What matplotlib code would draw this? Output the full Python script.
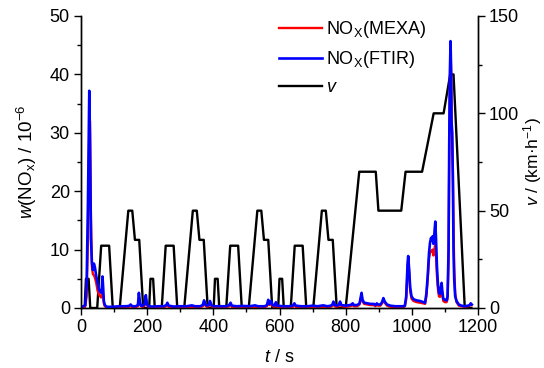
import numpy as np
import matplotlib
matplotlib.use("Agg")
import matplotlib.pyplot as plt
from matplotlib.ticker import MultipleLocator

plt.rcParams.update({
    "font.family": "Liberation Sans",
    "font.size": 13,
    "mathtext.fontset": "custom",
    "mathtext.rm": "Liberation Sans",
    "mathtext.it": "Liberation Sans:italic",
    "axes.linewidth": 1.0,
})

# speed profile breakpoints (t in s, v in km/h)
t_speed = [0, 11, 15, 23, 28, 49, 61, 85, 96, 117, 143, 155, 163, 176, 188,
           195, 206, 210, 218, 223, 244, 256, 280, 291, 312, 338, 350, 358, 371, 383,
           390, 401, 405, 413, 418, 439, 451, 475, 486, 507, 533, 545, 553, 566, 578,
           585, 596, 600, 608, 613, 634, 646, 670, 681, 702, 728, 740, 748, 761, 773,
           780, 800, 841, 891, 899, 968, 981, 1031, 1066, 1096, 1116, 1126, 1160, 1180]
v_speed = [0, 0, 15, 15, 0, 0, 32, 32, 0, 0, 50, 50, 35, 35, 0,
           0, 0, 15, 15, 0, 0, 32, 32, 0, 0, 50, 50, 35, 35, 0,
           0, 0, 15, 15, 0, 0, 32, 32, 0, 0, 50, 50, 35, 35, 0,
           0, 0, 15, 15, 0, 0, 32, 32, 0, 0, 50, 50, 35, 35, 0,
           0, 0, 70, 70, 50, 50, 70, 70, 100, 100, 120, 120, 0, 0]

# NOx mass fraction (10^-6)
t_nox = [0, 8, 13, 17, 21, 25, 27, 30, 33, 36, 39, 42, 46, 50, 54, 58, 61, 63, 65, 67,
         69, 72, 78, 90, 105, 120, 135, 145, 150, 155, 165, 172, 175, 178, 181, 186, 192,
         196, 199, 203, 215, 235, 250, 258, 261, 265, 280, 300, 320, 335, 345, 360, 368,
         372, 376, 381, 386, 390, 394, 400, 420, 440, 448, 452, 456, 470, 490, 510, 526,
         535, 555, 562, 566, 570, 575, 579, 585, 589, 593, 610, 630, 640, 645, 649, 665,
         685, 700, 715, 732, 745, 755, 760, 763, 767, 775, 780, 783, 787, 800, 812, 818,
         821, 825, 835, 842, 846, 848, 851, 856, 865, 875, 885, 890, 894, 898, 905, 910,
         914, 918, 925, 935, 950, 965, 975, 979, 983, 987, 989, 992, 995, 999, 1005, 1015,
         1025, 1035, 1040, 1044, 1048, 1052, 1055, 1058, 1061, 1063, 1065, 1067, 1069,
         1071, 1073, 1076, 1079, 1082, 1085, 1088, 1090, 1092, 1095, 1100, 1105, 1108,
         1111, 1113, 1115, 1117, 1119, 1120, 1122, 1124, 1126, 1128, 1131, 1135, 1142,
         1150, 1160, 1170, 1175, 1178, 1181]
nox_ftir = [0.2, 0.3, 0.5, 4.0, 18.0, 37.2, 30.0, 12.0, 7.8, 6.5, 7.6, 7.0, 5.5, 4.3, 3.2, 2.8, 2.6, 3.5, 5.4, 3.5,
            1.2, 0.5, 0.2, 0.2, 0.25, 0.3, 0.3, 0.35, 0.6, 0.3, 0.3, 0.5, 2.6, 1.0, 0.4, 0.4, 0.6,
            2.2, 0.8, 0.3, 0.25, 0.3, 0.3, 0.5, 0.9, 0.4, 0.25, 0.3, 0.3, 0.45, 0.3, 0.3, 0.5,
            1.3, 0.6, 0.4, 0.5, 1.2, 0.5, 0.3, 0.3, 0.3, 0.5, 0.9, 0.4, 0.3, 0.35, 0.3, 0.45,
            0.3, 0.3, 0.5, 1.4, 0.7, 1.2, 0.5, 0.4, 1.0, 0.4, 0.3, 0.3, 0.4, 0.8, 0.4, 0.3,
            0.3, 0.4, 0.3, 0.45, 0.3, 0.4, 0.6, 1.1, 0.5, 0.4, 0.6, 1.1, 0.5, 0.4, 0.5, 0.6,
            0.8, 0.5, 0.5, 0.8, 2.0, 2.6, 1.4, 0.9, 0.8, 0.7, 0.7, 0.5, 0.8, 0.6, 0.6, 1.0,
            1.7, 1.1, 0.6, 0.4, 0.3, 0.3, 0.3, 0.4, 2.0, 7.5, 8.9, 6.5, 3.5, 2.0, 1.5, 1.3,
            1.2, 1.0, 0.9, 2.5, 5.5, 9.5, 11.2, 12.0, 11.5, 12.3, 11.0, 11.8, 13.5,
            14.8, 12.0, 7.0, 4.0, 2.6, 2.4, 3.5, 4.3, 3.0, 1.6, 1.4, 1.3, 2.0,
            10.0, 28.0, 40.0, 45.7, 40.0, 32.0, 30.0, 22.0, 10.0, 5.0, 2.0, 1.2, 0.6,
            0.4, 0.3, 0.4, 0.5, 0.8, 0.6]
nox_mexa = [0.1, 0.1, 0.3, 2.0, 12.0, 30.0, 32.0, 16.0, 7.0, 5.8, 5.6, 5.2, 4.3, 3.0, 2.3, 2.0, 1.8, 2.3, 3.2, 2.0,
            0.8, 0.3, 0.1, 0.1, 0.1, 0.15, 0.15, 0.2, 0.3, 0.15, 0.15, 0.3, 1.8, 0.8, 0.3, 0.2, 0.4,
            1.6, 0.6, 0.2, 0.1, 0.15, 0.15, 0.3, 0.6, 0.2, 0.1, 0.15, 0.15, 0.2, 0.15, 0.15, 0.3,
            0.9, 0.4, 0.2, 0.3, 0.8, 0.3, 0.15, 0.15, 0.15, 0.3, 0.6, 0.2, 0.15, 0.15, 0.15, 0.2,
            0.15, 0.15, 0.3, 1.0, 0.5, 0.8, 0.3, 0.2, 0.7, 0.2, 0.15, 0.15, 0.2, 0.5, 0.2, 0.15,
            0.15, 0.2, 0.15, 0.2, 0.15, 0.2, 0.4, 0.8, 0.3, 0.2, 0.4, 0.8, 0.3, 0.2, 0.3, 0.4,
            0.6, 0.3, 0.3, 0.6, 1.6, 2.2, 1.1, 0.7, 0.6, 0.5, 0.5, 0.3, 0.6, 0.4, 0.4, 0.8,
            1.4, 0.9, 0.4, 0.2, 0.15, 0.15, 0.15, 0.3, 1.5, 6.5, 8.3, 6.0, 3.0, 1.6, 1.2, 1.0,
            0.9, 0.8, 0.7, 2.0, 5.0, 8.5, 9.5, 9.8, 9.6, 10.0, 9.0, 9.4, 10.3,
            11.0, 9.0, 5.5, 3.2, 2.0, 1.9, 2.8, 3.3, 2.3, 1.2, 1.0, 1.0, 1.5,
            8.0, 25.0, 38.0, 45.0, 39.0, 33.0, 29.0, 24.0, 14.0, 7.0, 2.5, 1.0, 0.4,
            0.3, 0.2, 0.3, 0.4, 0.6, 0.5]

fig, ax = plt.subplots(figsize=(5.44, 3.68), dpi=100)
fig.subplots_adjust(left=81/544, right=478/544, bottom=1-308/368, top=1-16/368)
ax2 = ax.twinx()

l1, = ax.plot(t_nox, nox_mexa, color="#ff0000", lw=1.7, label=r"NO$_{\mathrm{X}}$(MEXA)")
l2, = ax.plot(t_nox, nox_ftir, color="#0000ff", lw=1.9, label=r"NO$_{\mathrm{X}}$(FTIR)")
l3, = ax2.plot(t_speed, v_speed, color="black", lw=1.7, label=r"$v$")

# NOx curves on top of the speed curve
ax.set_zorder(ax2.get_zorder() + 1)
ax.patch.set_visible(False)

ax.set_xlim(0, 1200)
ax.set_ylim(0, 50)
ax2.set_ylim(0, 150)
ax.xaxis.set_major_locator(MultipleLocator(200))
ax.xaxis.set_minor_locator(MultipleLocator(100))
ax.yaxis.set_major_locator(MultipleLocator(10))
ax.yaxis.set_minor_locator(MultipleLocator(5))
ax2.yaxis.set_major_locator(MultipleLocator(50))
ax2.yaxis.set_minor_locator(MultipleLocator(25))

for a in (ax, ax2):
    a.spines["top"].set_visible(False)
    a.tick_params(which="major", direction="out", length=5, width=1.0, labelsize=13, pad=3)
    a.tick_params(which="minor", direction="out", length=3, width=1.0)

ax.set_xlabel(r"$t$ / s", fontsize=13, labelpad=9)
ax.set_ylabel(r"$w$(NO$_{\mathrm{x}}$) / 10$^{-6}$", fontsize=13.5, labelpad=8)
ax2.set_ylabel(r"$v$ / (km·h$^{-1}$)", fontsize=12.5, labelpad=1)

ax.legend(handles=[l1, l2, l3], loc="upper left", frameon=False,
          bbox_to_anchor=(279/544, 1-19/368), bbox_transform=fig.transFigure,
          borderpad=0, borderaxespad=0, handlelength=2.4, handletextpad=0.2,
          labelspacing=0.5, fontsize=13)

fig.savefig("out.png", dpi=100)
